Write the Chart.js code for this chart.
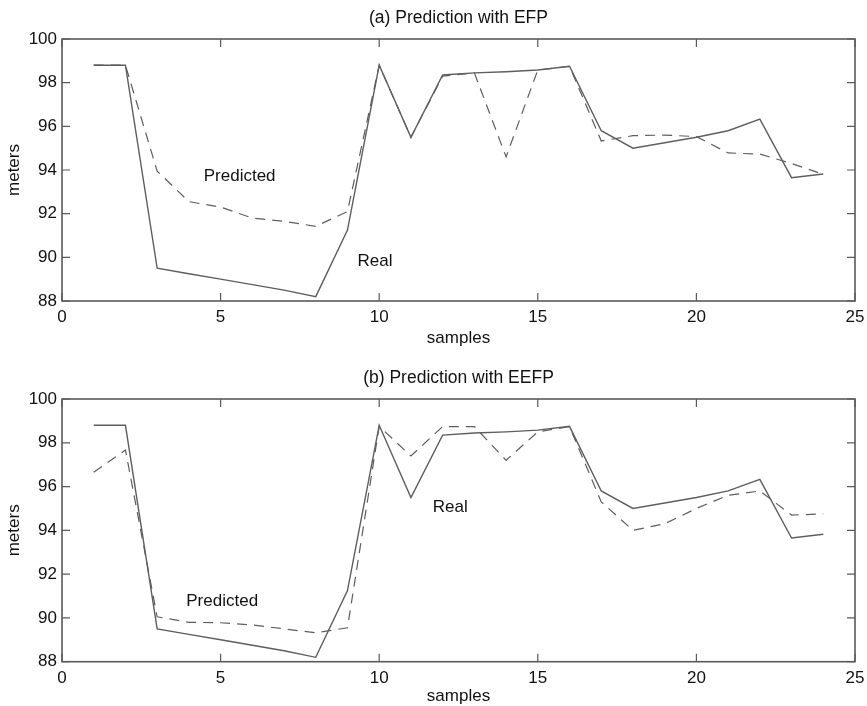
<!DOCTYPE html>
<html>
<head>
<meta charset="utf-8">
<script src="https://cdn.jsdelivr.net/npm/chart.js@4.4.1/dist/chart.umd.min.js"></script>
<style>
  html, body { margin: 0; padding: 0; background: #fff; overflow: hidden; }
  .plot { position: absolute; left: 0; width: 867px; }
  #plotA { top: 0; height: 350px; }
  #plotB { top: 350px; height: 358px; }
</style>
</head>
<body>
<div class="plot" id="plotA"><canvas id="chartA"></canvas></div>
<div class="plot" id="plotB"><canvas id="chartB"></canvas></div>
<script>
// samples 1..24
const samples = [1, 2, 3, 4, 5, 6, 7, 8, 9, 10, 11, 12, 13, 14, 15, 16, 17, 18, 19, 20, 21, 22, 23, 24];

// real water level (same in both plots)
const realLevel = [98.8, 98.8, 89.5, 89.25, 89.0, 88.75, 88.5, 88.2, 91.25, 98.8, 95.5, 98.35,
                   98.45, 98.5, 98.58, 98.75, 95.8, 95.0, 95.25, 95.5, 95.8, 96.33, 93.65, 93.82];

// (a) prediction with EFP
const predEFP = [98.8, 98.8, 93.95, 92.55, 92.3, 91.8, 91.65, 91.42, 92.1, 98.8, 95.5, 98.3,
                 98.45, 94.6, 98.58, 98.75, 95.33, 95.57, 95.6, 95.53, 94.78, 94.73, 94.3, 93.8];

// (b) prediction with EEFP
const predEEFP = [96.65, 97.67, 90.05, 89.8, 89.78, 89.68, 89.5, 89.32, 89.55, 98.75, 97.4, 98.74,
                  98.74, 97.2, 98.5, 98.74, 95.3, 94.0, 94.3, 95.0, 95.6, 95.8, 94.7, 94.75];

const xTicks = [0, 5, 10, 15, 20, 25];
const yTicks = [88, 90, 92, 94, 96, 98, 100];

const labelsA = [
    { text: 'Predicted', x: 5.6, y: 93.7 },
    { text: 'Real', x: 9.87, y: 89.8 }
];
const labelsB = [
    { text: 'Predicted', x: 5.05, y: 90.77 },
    { text: 'Real', x: 12.24, y: 95.07 }
];

const FONT = 'Liberation Sans, Arial, Helvetica, sans-serif';
const LINE = '#5e5e5e';

function toPoints(values) {
    return samples.map((s, i) => ({ x: s, y: values[i] }));
}

// matlab style box with inward ticks + text labels
const boxPlugin = {
    id: 'box',
    afterDatasetsDraw(chart, args, opts) {
        const ctx = chart.ctx;
        const a = chart.chartArea;
        const xs = chart.scales.x;
        const ys = chart.scales.y;
        const tl = 8;
        ctx.save();
        ctx.strokeStyle = '#5a5a5a';
        ctx.lineWidth = 1.6;
        ctx.strokeRect(a.left, a.top, a.right - a.left, a.bottom - a.top);
        ctx.lineWidth = 1.2;
        ctx.beginPath();
        xTicks.forEach(v => {
            const px = xs.getPixelForValue(v);
            ctx.moveTo(px, a.bottom); ctx.lineTo(px, a.bottom - tl);
            ctx.moveTo(px, a.top); ctx.lineTo(px, a.top + tl);
        });
        yTicks.forEach(v => {
            const py = ys.getPixelForValue(v);
            ctx.moveTo(a.left, py); ctx.lineTo(a.left + tl, py);
            ctx.moveTo(a.right, py); ctx.lineTo(a.right - tl, py);
        });
        ctx.stroke();

        ctx.fillStyle = '#111';
        ctx.font = '17px ' + FONT;
        ctx.textAlign = 'center';
        ctx.textBaseline = 'middle';
        (opts.labels || []).forEach(l => {
            ctx.fillText(l.text, xs.getPixelForValue(l.x), ys.getPixelForValue(l.y));
        });
        ctx.restore();
    }
};

function makeChart(id, title, pred, labels, titlePad, xHeight, xTitlePad) {
    return new Chart(document.getElementById(id), {
        type: 'line',
        data: {
            datasets: [
                {
                    label: 'Real',
                    data: toPoints(realLevel),
                    borderColor: LINE,
                    borderWidth: 1.4,
                    pointRadius: 0,
                    tension: 0
                },
                {
                    label: 'Predicted',
                    data: toPoints(pred),
                    borderColor: LINE,
                    borderWidth: 1.2,
                    borderDash: [10, 7],
                    pointRadius: 0,
                    tension: 0
                }
            ]
        },
        options: {
            responsive: true,
            maintainAspectRatio: false,
            animation: false,
            layout: { padding: { left: 0, right: 12, top: 0, bottom: 0 } },
            plugins: {
                legend: { display: false },
                tooltip: { enabled: false },
                title: {
                    display: true,
                    fullSize: false,
                    text: title,
                    color: '#111',
                    font: { family: FONT, size: 17.5, weight: 'normal' },
                    padding: titlePad
                },
                box: { labels: labels }
            },
            scales: {
                x: {
                    type: 'linear',
                    min: 0,
                    max: 25,
                    afterFit: s => { s.height = xHeight; s.paddingLeft = 0; s.paddingRight = 0; },
                    afterBuildTicks: s => { s.ticks = xTicks.map(v => ({ value: v })); },
                    grid: { display: false, drawTicks: false },
                    border: { display: false },
                    ticks: { color: '#111', padding: 6, maxRotation: 0, font: { family: FONT, size: 17 } },
                    title: {
                        display: true,
                        text: 'samples',
                        color: '#111',
                        font: { family: FONT, size: 17 },
                        padding: { top: 0, bottom: xTitlePad }
                    }
                },
                y: {
                    type: 'linear',
                    min: 88,
                    max: 100,
                    afterFit: s => { s.width = 62; s.paddingTop = 0; s.paddingBottom = 0; },
                    afterBuildTicks: s => { s.ticks = yTicks.map(v => ({ value: v })); },
                    grid: { display: false, drawTicks: false },
                    border: { display: false },
                    ticks: { color: '#111', padding: 5, font: { family: FONT, size: 17 } },
                    title: {
                        display: true,
                        text: 'meters',
                        color: '#111',
                        font: { family: FONT, size: 17 },
                        padding: { top: 4, bottom: 0 }
                    }
                }
            }
        },
        plugins: [boxPlugin]
    });
}

makeChart('chartA', '(a) Prediction with EFP', predEFP, labelsA, { top: 7.5, bottom: 10.5 }, 49, 1.8);
makeChart('chartB', '(b) Prediction with EEFP', predEEFP, labelsB, { top: 17.8, bottom: 10.2 }, 46.3, 1.1);
</script>
</body>
</html>
